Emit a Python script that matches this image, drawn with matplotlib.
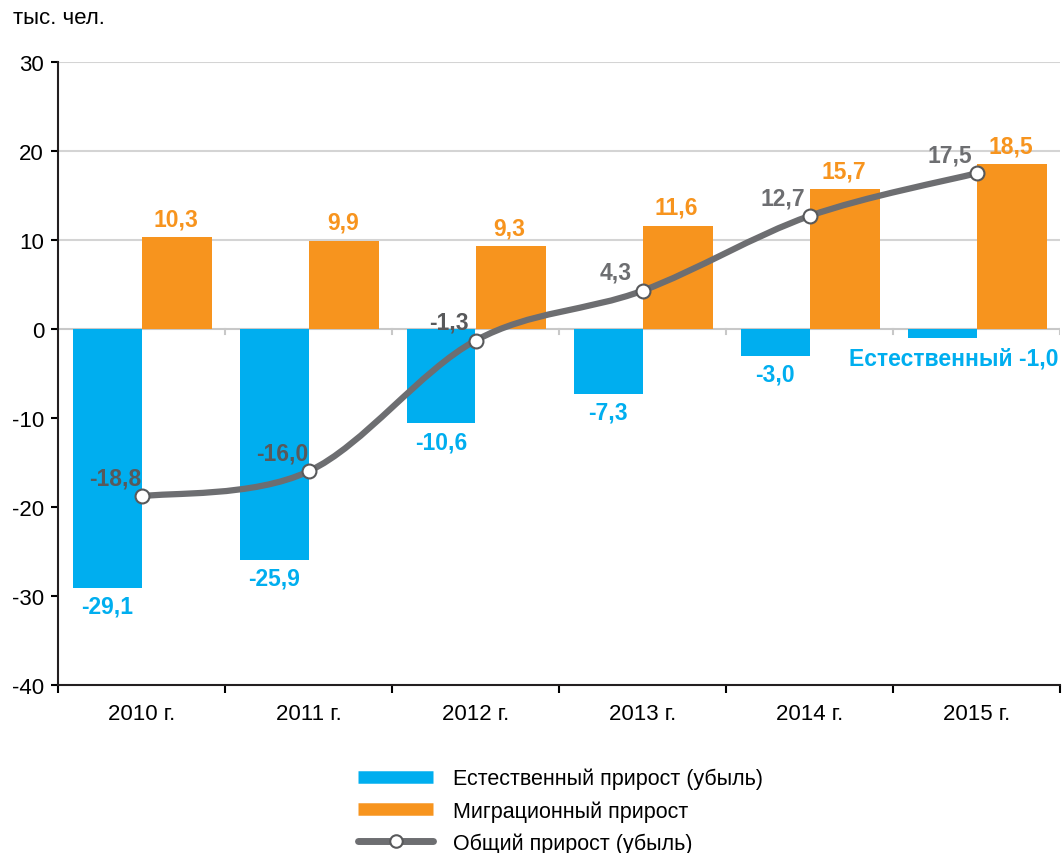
import matplotlib
matplotlib.use("Agg")
import matplotlib.pyplot as plt
from matplotlib.path import Path
from matplotlib.patches import PathPatch
from matplotlib.lines import Line2D
import numpy as np

plt.rcParams['font.family'] = ['Liberation Sans', 'DejaVu Sans']

years = ["2010 г.", "2011 г.", "2012 г.", "2013 г.", "2014 г.", "2015 г."]
natural = [-29.1, -25.9, -10.6, -7.3, -3.0, -1.0]
migration = [10.3, 9.9, 9.3, 11.6, 15.7, 18.5]
total = [-18.8, -16.0, -1.3, 4.3, 12.7, 17.5]
labels_legend = ["Естественный прирост (убыль)", "Миграционный прирост", "Общий прирост (убыль)"]

BLUE = "#00AEEF"
ORANGE = "#F7941E"
GRAY = "#6D6E71"
DARK = "#58595B"
FS = 16
LFS = 16.5

def fmt(v):
    return f"{v:.1f}".replace(".", ",")

fig = plt.figure(figsize=(10.63, 8.54), dpi=100)
ax = fig.add_axes([58/1063, 1-686/854, (1060-58)/1063, (686-63)/854])

x = np.arange(len(years))
w = 0.41
ax.bar(x - w/2, natural, width=w, color=BLUE, zorder=2)
ax.bar(x + w/2 + 0.005, migration, width=w + 0.01, color=ORANGE, zorder=2)

# smooth line (Catmull-Rom style bezier as in spreadsheet smoothing)
pts = np.column_stack([x, total]).astype(float)
verts = [tuple(pts[0])]
codes = [Path.MOVETO]
n = len(pts)
for i in range(n - 1):
    p0 = pts[i - 1] if i > 0 else pts[i]
    p1 = pts[i]
    p2 = pts[i + 1]
    p3 = pts[i + 2] if i + 2 < n else pts[i + 1]
    c1 = p1 + (p2 - p0) / 6
    c2 = p2 - (p3 - p1) / 6
    verts += [tuple(c1), tuple(c2), tuple(p2)]
    codes += [Path.CURVE4] * 3
ax.add_patch(PathPatch(Path(verts, codes), facecolor='none', edgecolor=GRAY, lw=4.5, zorder=3,
                       capstyle='round'))
ax.plot(x, total, linestyle='none', marker='o', ms=10, mfc='white', mec=DARK, mew=1.5, zorder=4)

# labels
for i in range(len(years)):
    if i < len(years) - 1:
        ax.annotate(fmt(natural[i]), (x[i] - w/2, natural[i]), xytext=(0, -5), textcoords='offset points',
                    ha='center', va='top', color=BLUE, fontsize=LFS, fontweight='bold')
    else:
        ax.annotate("Естественный " + fmt(natural[i]), (5.5, natural[i]), xytext=(-1, -6),
                    textcoords='offset points', ha='right', va='top', color=BLUE, fontsize=LFS,
                    fontweight='bold')
    ax.annotate(fmt(migration[i]), (x[i] + w/2, migration[i]), xytext=(0, 5), textcoords='offset points',
                ha='center', va='bottom', color=ORANGE, fontsize=LFS, fontweight='bold')
    ax.annotate(fmt(total[i]), (x[i], total[i]), xytext=(-19, 5), textcoords='offset points',
                ha='center', va='bottom', color=DARK if i < 3 else GRAY, fontsize=LFS, fontweight='bold')

ax.set_xlim(-0.5, 5.5)
ax.set_ylim(-40, 30)
ax.set_yticks(range(-40, 31, 10))
ax.set_yticklabels([str(v) for v in range(-40, 31, 10)], fontsize=FS)
for yv in (10, 20, 30):
    ax.axhline(yv, color="#D4D4D4", lw=1.5, zorder=1)
ax.axhline(0, color="#C8C8C8", lw=1.5, zorder=1)
for b in np.arange(-0.5, 5.6, 1.0)[1:]:
    ax.plot([b, b], [0, -0.6], color="#C8C8C8", lw=1.5, zorder=1)

ax.set_xticks(np.arange(-0.5, 5.6, 1.0))
ax.set_xticklabels([])
ax.set_xticks(x, minor=True)
ax.set_xticklabels(years, minor=True, fontsize=FS)
ax.tick_params(axis='x', which='minor', length=0, pad=13)
ax.tick_params(axis='x', which='major', length=6, width=1.5, direction='out')
ax.tick_params(axis='y', length=5, width=1.5, direction='out', pad=5)
for s in ('top', 'right'):
    ax.spines[s].set_visible(False)
for s in ('left', 'bottom'):
    ax.spines[s].set_linewidth(1.5)
    ax.spines[s].set_color("#231F20")

fig.text(13/1063, 1-19/854, "тыс. чел.", fontsize=FS, va='center', ha='left')

handles = [Line2D([], [], color=BLUE, lw=9, solid_capstyle='butt'),
           Line2D([], [], color=ORANGE, lw=9, solid_capstyle='butt'),
           Line2D([], [], color=GRAY, lw=5, marker='o', ms=9, mfc='white', mec=DARK, mew=1.5,
                  solid_capstyle='round')]
fig.legend(handles, labels_legend, loc='upper left', bbox_to_anchor=(358/1063, 1-769/854),
           frameon=False, fontsize=15.5, handlelength=3.5, handletextpad=0.9, labelspacing=0.5,
           borderpad=0, borderaxespad=0)

fig.savefig("out.png", dpi=100)
